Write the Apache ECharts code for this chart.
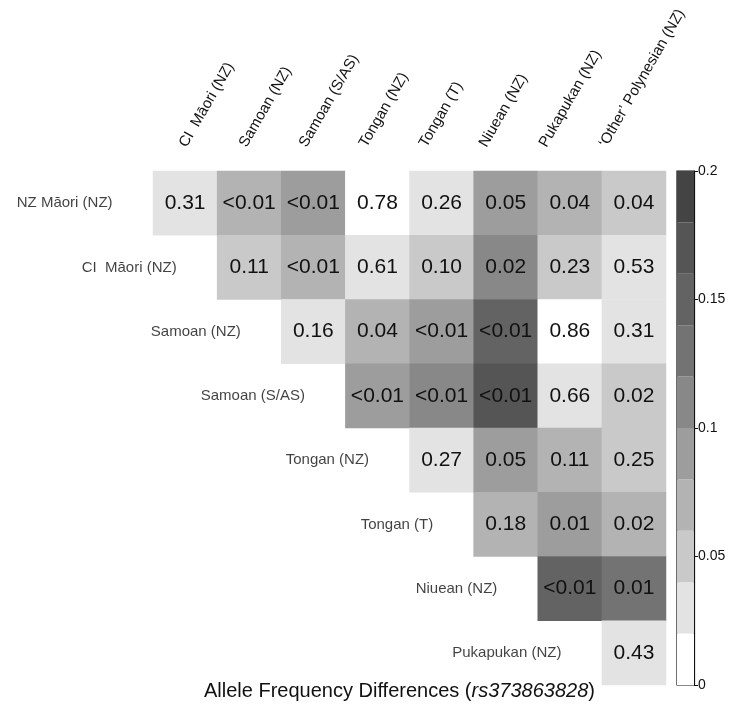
<!DOCTYPE html>
<html>
<head>
<meta charset="utf-8">
<script src="https://cdn.jsdelivr.net/npm/echarts@6/dist/echarts.min.js"></script>
<style>
  html, body { margin: 0; padding: 0; background: #fff; }
  #chart { width: 733px; height: 706px; }
</style>
</head>
<body>
<div id="chart"></div>
<script>
// Pairwise comparison: column populations across the top, row populations down the diagonal
const colNames = ['CI  M\u0101ori (NZ)', 'Samoan (NZ)', 'Samoan (S/AS)', 'Tongan (NZ)', 'Tongan (T)',
                  'Niuean (NZ)', 'Pukapukan (NZ)', '\u2018Other\u2019 Polynesian (NZ)'];
const rowNames = ['NZ M\u0101ori (NZ)', 'CI  M\u0101ori (NZ)', 'Samoan (NZ)', 'Samoan (S/AS)',
                  'Tongan (NZ)', 'Tongan (T)', 'Niuean (NZ)', 'Pukapukan (NZ)'];

// P values printed in each cell (row i starts at column i)
const pLabels = [
  ['0.31', '<0.01', '<0.01', '0.78', '0.26', '0.05', '0.04', '0.04'],
  ['0.11', '<0.01', '0.61', '0.10', '0.02', '0.23', '0.53'],
  ['0.16', '0.04', '<0.01', '<0.01', '0.86', '0.31'],
  ['<0.01', '<0.01', '<0.01', '0.66', '0.02'],
  ['0.27', '0.05', '0.11', '0.25'],
  ['0.18', '0.01', '0.02'],
  ['<0.01', '0.01'],
  ['0.43']
];

// Allele frequency differences shading each cell
const freqDiff = [
  [0.03, 0.07, 0.09, 0.01, 0.03, 0.09, 0.07, 0.05],
  [0.05, 0.07, 0.03, 0.05, 0.11, 0.05, 0.03],
  [0.03, 0.07, 0.09, 0.15, 0.01, 0.03],
  [0.09, 0.11, 0.17, 0.03, 0.05],
  [0.03, 0.09, 0.07, 0.05],
  [0.07, 0.09, 0.07],
  [0.15, 0.13],
  [0.03]
];

// Stepped grey scale
const levelEdges = [0, 0.02, 0.04, 0.06, 0.08, 0.10, 0.12, 0.14, 0.16, 0.18, 0.20];
const levelColors = ['#ffffff', '#e3e3e3', '#c9c9c9', '#b3b3b3', '#9d9d9d',
                     '#888888', '#737373', '#636363', '#555555', '#444444'];

const titleMain = 'Allele Frequency Differences (';
const titleSnp = 'rs373863828';

const cells = [];
rowNames.forEach((name, i) => {
  freqDiff[i].forEach((v, k) => cells.push([i + k, i, v]));
});

const FONT = '"Liberation Sans", Arial, sans-serif';

const chart = echarts.init(document.getElementById('chart'), null, { renderer: 'canvas' });

const colorbarSeries = levelColors.map((c, k) => ({
  type: 'bar',
  xAxisIndex: 2,
  yAxisIndex: 2,
  stack: 'scale',
  barWidth: '100%',
  silent: true,
  itemStyle: { color: c },
  data: [+(levelEdges[k + 1] - levelEdges[k]).toFixed(4)]
}));

chart.setOption({
  animation: false,
  backgroundColor: '#fff',
  title: {
    text: '{a|' + titleMain + '}{b|' + titleSnp + '}{a|)}',
    left: 199,
    top: 676,
    textStyle: {
      rich: {
        a: { fontFamily: FONT, fontSize: 20, fontWeight: 'normal', color: '#111' },
        b: { fontFamily: FONT, fontSize: 20, fontWeight: 'normal', fontStyle: 'italic', color: '#111' }
      }
    }
  },
  grid: [
    { left: 153, top: 171, width: 513, height: 514 },
    { left: 153, top: 171, width: 480, height: 1 },
    { left: 677, top: 171, width: 17, height: 514, show: true, borderColor: '#111', borderWidth: 1.2 }
  ],
  xAxis: [
    { type: 'category', gridIndex: 0, data: colNames, show: false },
    {
      type: 'category', gridIndex: 1, data: colNames, position: 'top',
      axisLine: { show: false }, axisTick: { show: false },
      axisLabel: { rotate: 60, margin: 25, interval: 0, fontFamily: FONT, fontSize: 15, color: '#111' }
    },
    { type: 'category', gridIndex: 2, data: ['scale'], show: false }
  ],
  yAxis: [
    { type: 'category', gridIndex: 0, data: rowNames, inverse: true, show: false },
    { type: 'value', gridIndex: 1, show: false },
    {
      type: 'value', gridIndex: 2, min: 0, max: 0.2, interval: 0.05, position: 'right',
      axisLine: { show: true, lineStyle: { color: '#111', width: 1.2 } },
      axisTick: { show: true, length: 4, lineStyle: { color: '#111' } },
      splitLine: { show: false },
      axisLabel: { margin: 4, fontFamily: FONT, fontSize: 14, color: '#111' }
    }
  ],
  visualMap: {
    type: 'piecewise',
    show: false,
    seriesIndex: 0,
    dimension: 2,
    pieces: levelColors.map((c, k) => ({ gte: levelEdges[k], lt: levelEdges[k + 1], color: c }))
  },
  series: [
    {
      type: 'heatmap',
      xAxisIndex: 0,
      yAxisIndex: 0,
      data: cells,
      silent: true,
      label: {
        show: true,
        fontFamily: FONT,
        fontSize: 21,
        color: '#111',
        formatter: p => pLabels[p.value[1]][p.value[0] - p.value[1]]
      },
      itemStyle: { borderWidth: 0 }
    },
    {
      type: 'scatter',
      xAxisIndex: 0,
      yAxisIndex: 0,
      symbolSize: 1,
      silent: true,
      itemStyle: { color: 'rgba(0,0,0,0)' },
      data: rowNames.map((n, i) => [i, i]),
      label: {
        show: true,
        position: 'left',
        distance: 72,
        fontFamily: FONT,
        fontSize: 15,
        color: '#111',
        formatter: p => rowNames[p.value[1]]
      }
    },
    ...colorbarSeries
  ]
});
</script>
</body>
</html>
